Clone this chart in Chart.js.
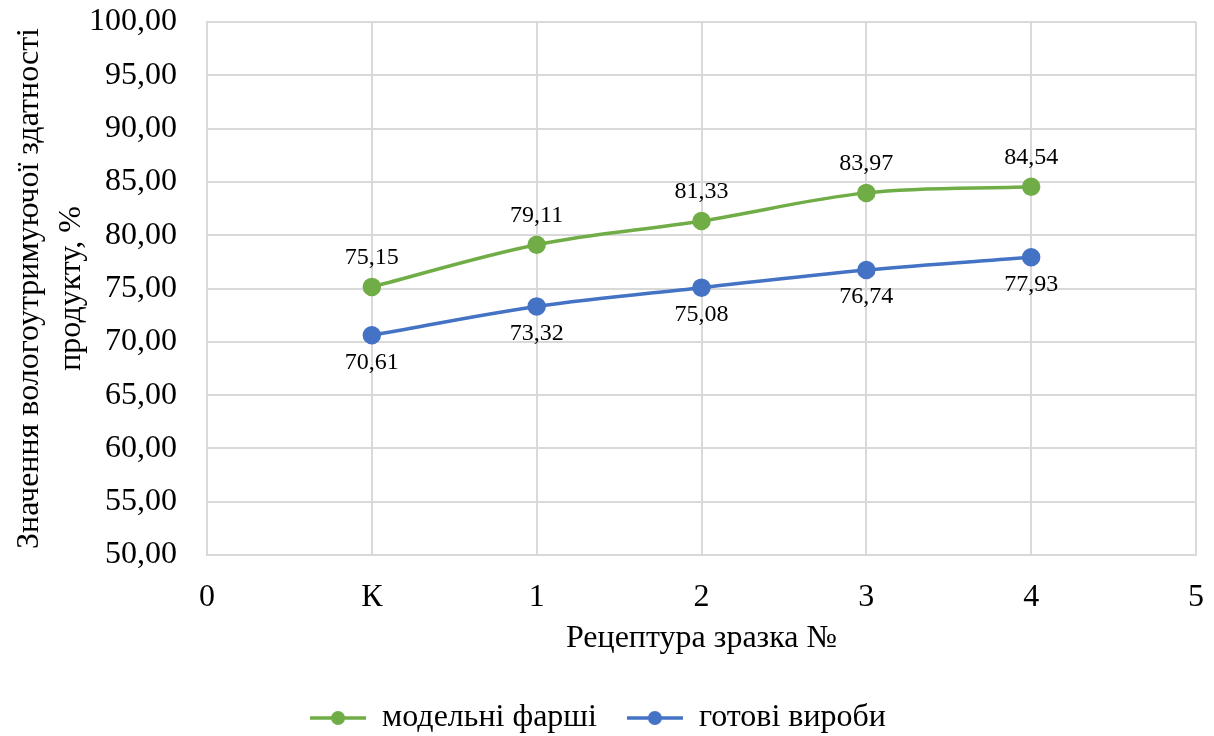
<!DOCTYPE html>
<html>
<head>
<meta charset="utf-8">
<script src="https://cdn.jsdelivr.net/npm/chart.js"></script>
<style>
  html, body { margin: 0; padding: 0; background: #fff; }
  #wrap { width: 1214px; height: 736px; }
</style>
</head>
<body>
<div id="wrap"><canvas id="moistureChart"></canvas></div>
<script>
// Data
const categories = ['0', 'К', '1', '2', '3', '4', '5'];
const seriesNames = ['модельні фарші', 'готові вироби'];
const mincedValues = [null, 75.15, 79.11, 81.33, 83.97, 84.54, null];
const productValues = [null, 70.61, 73.32, 75.08, 76.74, 77.93, null];
const yMin = 50, yMax = 100, yStep = 5;

const GREEN = '#70ad47';
const BLUE = '#4472c4';
const GRID = '#d9d9d9';
const FONT = "'Liberation Serif', 'Times New Roman', serif";

function fmt(v) {
    return v.toFixed(2).replace('.', ',');
}

// line + marker icon for legend
function legendIcon(color) {
    const c = document.createElement('canvas');
    c.width = 56;
    c.height = 16;
    const g = c.getContext('2d');
    g.strokeStyle = color;
    g.lineWidth = 3.5;
    g.beginPath();
    g.moveTo(0, 8);
    g.lineTo(56, 8);
    g.stroke();
    g.fillStyle = color;
    g.beginPath();
    g.arc(28, 8, 7, 0, Math.PI * 2);
    g.fill();
    return c;
}

// value labels above (green) / below (blue) the points
const pointLabels = {
    id: 'pointLabels',
    afterDatasetsDraw(chart) {
        const ctx = chart.ctx;
        ctx.save();
        ctx.font = '24px ' + FONT;
        ctx.fillStyle = '#000';
        ctx.textAlign = 'center';
        ctx.textBaseline = 'middle';
        chart.data.datasets.forEach((ds, i) => {
            const meta = chart.getDatasetMeta(i);
            meta.data.forEach((pt, j) => {
                const v = ds.data[j];
                if (v === null) return;
                const dy = i === 0 ? -29 : 27;
                ctx.fillText(fmt(v), pt.x, pt.y + dy);
            });
        });
        ctx.restore();
    }
};

// legend keeps wide gaps between items but takes less height
const legendTrim = {
    id: 'legendTrim',
    beforeLayout(chart) {
        const lg = chart.legend;
        if (lg && !lg.trimmed) {
            const fit = lg.fit;
            lg.fit = function () {
                fit.call(this);
                this.height -= 8;
            };
            lg.trimmed = true;
        }
    }
};

const icons = [legendIcon(GREEN), legendIcon(BLUE)];

new Chart(document.getElementById('moistureChart'), {
    type: 'line',
    data: {
        labels: categories,
        datasets: [{
            label: seriesNames[0],
            data: mincedValues,
            borderColor: GREEN,
            backgroundColor: GREEN,
            borderWidth: 3.5,
            pointRadius: 7.5,
            pointHoverRadius: 7.5,
            tension: 0.35
        }, {
            label: seriesNames[1],
            data: productValues,
            borderColor: BLUE,
            backgroundColor: BLUE,
            borderWidth: 3.5,
            pointRadius: 7.5,
            pointHoverRadius: 7.5,
            tension: 0.35
        }]
    },
    options: {
        responsive: true,
        maintainAspectRatio: false,
        animation: false,
        layout: {
            padding: { left: 0, right: 18, top: 22, bottom: 0 }
        },
        scales: {
            x: {
                type: 'category',
                offset: false,
                grid: { color: GRID, lineWidth: 2, drawTicks: false },
                border: { color: GRID, width: 2 },
                ticks: {
                    color: '#000',
                    font: { family: FONT, size: 32 },
                    padding: 23,
                    maxRotation: 0,
                    autoSkip: false
                },
                title: {
                    display: true,
                    text: 'Рецептура зразка №',
                    color: '#000',
                    font: { family: FONT, size: 32 },
                    padding: { top: 0, bottom: 14 }
                },
                afterFit(scale) {
                    scale.height = 117;
                    scale.paddingLeft = 0;
                    scale.paddingRight = 0;
                }
            },
            y: {
                min: yMin,
                max: yMax,
                grid: { color: GRID, lineWidth: 2, drawTicks: false },
                border: { color: GRID, width: 2 },
                ticks: {
                    stepSize: yStep,
                    color: '#000',
                    font: { family: FONT, size: 32 },
                    padding: 30,
                    callback: v => fmt(v)
                },
                title: {
                    display: true,
                    text: ['Значення вологоутримуючої здатності', 'продукту, %'],
                    color: '#000',
                    font: { family: FONT, size: 32, lineHeight: 1.3 },
                    padding: { top: 9, bottom: 0 }
                },
                afterFit(scale) {
                    scale.width = 207;
                    scale.paddingTop = 0;
                    scale.paddingBottom = 0;
                }
            }
        },
        plugins: {
            legend: {
                position: 'bottom',
                labels: {
                    color: '#000',
                    font: { family: FONT, size: 32 },
                    usePointStyle: true,
                    pointStyleWidth: 56,
                    padding: 30,
                    generateLabels(chart) {
                        const items = Chart.defaults.plugins.legend.labels.generateLabels(chart);
                        items.forEach((it, i) => { it.pointStyle = icons[i]; });
                        return items;
                    }
                }
            },
            tooltip: { enabled: false }
        }
    },
    plugins: [pointLabels, legendTrim]
});
</script>
</body>
</html>
